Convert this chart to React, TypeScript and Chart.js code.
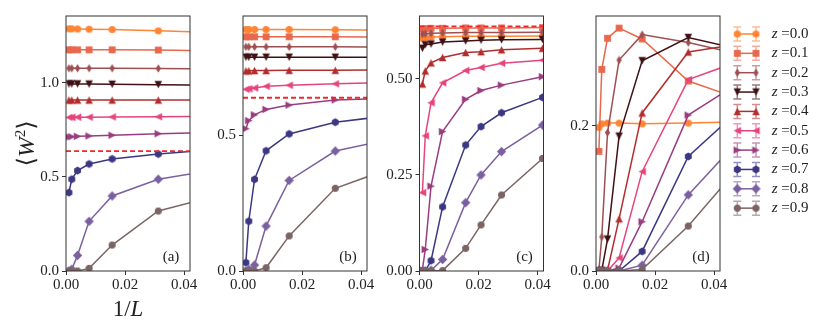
import React, { useEffect, useRef } from 'react';
import { Chart, registerables } from 'chart.js';
Chart.register(...registerables);

// ---------- data ----------
const X_MAIN = [1 / 1024, 1 / 512, 1 / 256, 1 / 128, 1 / 64, 1 / 32, 1 / 16];
const X_C = [1 / 1024, 1 / 512, 1 / 256, 1 / 128, 1 / 64, 1 / 48, 1 / 36, 1 / 24];
const Z_LABELS = ['0.0', '0.1', '0.2', '0.3', '0.4', '0.5', '0.6', '0.7', '0.8', '0.9'];
const X_TICKS = [0, 0.02, 0.04];
const A_TICKS = [0, 0.5, 1.0];
const B_TICKS = [0, 0.5];
const C_TICKS = [0, 0.25, 0.5];
const D_TICKS = [0, 0.2];
const DASH_LEVEL = 0.637;

const PANEL_A = [
  [1.288, 1.288, 1.287, 1.286, 1.284, 1.277, 1.265],
  [1.176, 1.176, 1.176, 1.176, 1.176, 1.175, 1.166],
  [1.078, 1.078, 1.078, 1.078, 1.078, 1.077, 1.074],
  [0.995, 0.995, 0.995, 0.994, 0.993, 0.991, 0.985],
  [0.909, 0.909, 0.909, 0.909, 0.909, 0.909, 0.909],
  [0.817, 0.817, 0.818, 0.818, 0.819, 0.820, 0.823],
  [0.713, 0.714, 0.716, 0.718, 0.722, 0.730, 0.742],
  [0.417, 0.488, 0.534, 0.569, 0.596, 0.622, 0.660],
  [0.000, 0.009, 0.083, 0.264, 0.399, 0.488, 0.569],
  [0.000, 0.000, 0.000, 0.014, 0.138, 0.319, 0.447],
];
const PANEL_B = [
  [0.888, 0.888, 0.888, 0.888, 0.888, 0.887, 0.884],
  [0.861, 0.861, 0.861, 0.861, 0.861, 0.861, 0.860],
  [0.824, 0.824, 0.824, 0.824, 0.824, 0.824, 0.823],
  [0.786, 0.786, 0.786, 0.786, 0.786, 0.786, 0.786],
  [0.736, 0.736, 0.737, 0.737, 0.738, 0.738, 0.741],
  [0.668, 0.670, 0.673, 0.679, 0.683, 0.688, 0.697],
  [0.523, 0.553, 0.574, 0.594, 0.610, 0.629, 0.638],
  [0.031, 0.183, 0.337, 0.442, 0.504, 0.547, 0.588],
  [0.000, 0.006, 0.022, 0.165, 0.333, 0.441, 0.514],
  [0.000, 0.000, 0.000, 0.012, 0.129, 0.304, 0.426],
];
const PANEL_C = [
  [0.606, 0.608, 0.609, 0.610, 0.611, 0.611, 0.611, 0.612],
  [0.630, 0.631, 0.632, 0.632, 0.633, 0.633, 0.633, 0.634],
  [0.617, 0.618, 0.619, 0.620, 0.621, 0.621, 0.621, 0.622],
  [0.580, 0.589, 0.591, 0.596, 0.599, 0.601, 0.602, 0.603],
  [0.487, 0.521, 0.542, 0.556, 0.569, 0.571, 0.576, 0.580],
  [0.204, 0.352, 0.438, 0.490, 0.522, 0.530, 0.541, 0.549],
  [0.003, 0.056, 0.221, 0.363, 0.447, 0.470, 0.484, 0.506],
  [0.000, 0.000, 0.027, 0.167, 0.328, 0.376, 0.412, 0.452],
  [0.000, 0.000, 0.002, 0.030, 0.178, 0.250, 0.311, 0.380],
  [0.000, 0.000, 0.000, 0.001, 0.059, 0.120, 0.198, 0.293],
];
const PANEL_D = [
  [0.198, 0.203, 0.204, 0.204, 0.203, 0.204, 0.207],
  [0.165, 0.278, 0.321, 0.335, 0.320, 0.262, 0.218],
  [0.001, 0.047, 0.191, 0.291, 0.326, 0.315, 0.286],
  [0.000, 0.001, 0.044, 0.186, 0.290, 0.322, 0.293],
  [0.000, 0.000, 0.001, 0.072, 0.218, 0.302, 0.322],
  [0.000, 0.000, 0.000, 0.018, 0.137, 0.264, 0.310],
  [0.000, 0.000, 0.000, 0.004, 0.068, 0.215, 0.296],
  [0.000, 0.000, 0.000, 0.000, 0.027, 0.158, 0.274],
  [0.000, 0.000, 0.000, 0.000, 0.008, 0.105, 0.242],
  [0.000, 0.000, 0.000, 0.000, 0.002, 0.062, 0.210],
];

// ---------- styles ----------
const COLORS = ['#ff8534', '#e9674d', '#9e4f52', '#3f1114', '#b32d2e', '#e6447c', '#993d80', '#3b3783', '#7b60a0', '#7c6464'];
const SHAPES = ['o', 's', 'd', 'v', '^', '<', '>', 'h', 'D', '8'];
const SERIF = "'Liberation Serif', 'DejaVu Serif', serif";
const AXIS_COLOR = '#333';
const TEXT_COLOR = '#222';
const DASH_COLOR = '#f02828';
const W = 830;
const H = 332;
const TOP = 16;
const BOTTOM = 271;
const YW = 40;
const XH = 30;

function poly(ctx: CanvasRenderingContext2D, pts: number[][]) {
  ctx.moveTo(pts[0][0], pts[0][1]);
  for (let i = 1; i < pts.length; i++) ctx.lineTo(pts[i][0], pts[i][1]);
  ctx.closePath();
}
function regular(n: number, r: number, start: number) {
  const pts: number[][] = [];
  for (let k = 0; k < n; k++) {
    const a = start + (k * 2 * Math.PI) / n;
    pts.push([r * Math.cos(a), r * Math.sin(a)]);
  }
  return pts;
}
function markerPath(ctx: CanvasRenderingContext2D, shape: string, r: number) {
  ctx.beginPath();
  switch (shape) {
    case 'o': ctx.arc(0, 0, r, 0, Math.PI * 2); break;
    case 's': ctx.rect(-r * 0.95, -r * 0.95, r * 1.9, r * 1.9); break;
    case 'd': poly(ctx, [[0, -r * 1.2], [r * 0.72, 0], [0, r * 1.2], [-r * 0.72, 0]]); break;
    case 'v': poly(ctx, [[0, r * 1.05], [-r * 1.05, -r * 1.05], [r * 1.05, -r * 1.05]]); break;
    case '^': poly(ctx, [[0, -r * 1.05], [-r * 1.05, r * 1.05], [r * 1.05, r * 1.05]]); break;
    case '<': poly(ctx, [[-r * 1.05, 0], [r * 1.05, -r * 1.05], [r * 1.05, r * 1.05]]); break;
    case '>': poly(ctx, [[r * 1.05, 0], [-r * 1.05, -r * 1.05], [-r * 1.05, r * 1.05]]); break;
    case 'h': poly(ctx, regular(6, r * 1.1, -Math.PI / 2)); break;
    case 'D': poly(ctx, [[0, -r * 1.3], [r * 1.3, 0], [0, r * 1.3], [-r * 1.3, 0]]); break;
    default: poly(ctx, regular(8, r * 1.05, Math.PI / 8)); break;
  }
}
function makeMarker(shape: string, color: string, r: number): HTMLCanvasElement {
  const s = Math.ceil(r * 2.8) + 2;
  const c = document.createElement('canvas');
  c.width = s;
  c.height = s;
  const ctx = c.getContext('2d')!;
  ctx.translate(s / 2, s / 2);
  ctx.fillStyle = color;
  markerPath(ctx, shape, r);
  ctx.fill();
  return c;
}

type PanelDef = {
  left: number;
  ymax: number;
  yTicks: number[];
  yDec: number;
  xs: number[];
  series: number[][];
  dash: boolean;
  label: string;
  axisTitles?: boolean;
  legend?: boolean;
};

const PANELS: PanelDef[] = [
  { left: 66, ymax: 1.356, yTicks: A_TICKS, yDec: 1, xs: X_MAIN, series: PANEL_A, dash: true, label: '(a)', axisTitles: true },
  { left: 243, ymax: 0.9375, yTicks: B_TICKS, yDec: 1, xs: X_MAIN, series: PANEL_B, dash: true, label: '(b)' },
  { left: 419.5, ymax: 0.664, yTicks: C_TICKS, yDec: 2, xs: X_C, series: PANEL_C, dash: true, label: '(c)' },
  { left: 596, ymax: 0.3517, yTicks: D_TICKS, yDec: 1, xs: X_MAIN, series: PANEL_D, dash: false, label: '(d)', legend: true },
];
const PANEL_W = 124;
const XMAX = 0.042;

function drawPieces(ctx: CanvasRenderingContext2D, pieces: { t: string; font: string; dy?: number }[], cx: number, y: number, align: 'center' | 'left') {
  let total = 0;
  const widths = pieces.map((p) => { ctx.font = p.font; const w = ctx.measureText(p.t).width; total += w; return w; });
  let x = align === 'center' ? cx - total / 2 : cx;
  pieces.forEach((p, i) => {
    ctx.font = p.font;
    ctx.fillText(p.t, x, y + (p.dy || 0));
    x += widths[i];
  });
}

function buildConfig(p: PanelDef, markers: HTMLCanvasElement[]): any {
  const datasets: any[] = p.series.map((ys, i) => ({
    label: 'z =' + Z_LABELS[i],
    data: p.xs.map((x, j) => ({ x, y: ys[j] })),
    borderColor: COLORS[i],
    backgroundColor: COLORS[i],
    borderWidth: 1.5,
    pointStyle: markers[i],
    pointRadius: 4,
    tension: 0,
    order: 10 - i,
  }));
  if (p.dash) {
    datasets.push({
      label: 'dash',
      data: [{ x: 0, y: DASH_LEVEL }, { x: XMAX, y: DASH_LEVEL }],
      borderColor: DASH_COLOR,
      backgroundColor: DASH_COLOR,
      borderWidth: 1.8,
      borderDash: [5, 3],
      pointRadius: 0,
      order: -1,
    });
  }
  const right = p.left + PANEL_W;
  const textPlugin = {
    id: 'texts',
    afterDatasetsDraw(chart: any) {
      const { ctx, chartArea: a } = chart;
      ctx.save();
      ctx.strokeStyle = AXIS_COLOR;
      ctx.lineWidth = 1;
      ctx.strokeRect(a.left, a.top, a.right - a.left, a.bottom - a.top);
      ctx.restore();
    },
    afterDraw(chart: any) {
      const ctx: CanvasRenderingContext2D = chart.ctx;
      ctx.save();
      ctx.fillStyle = TEXT_COLOR;
      ctx.textBaseline = 'middle';
      ctx.textAlign = 'left';
      drawPieces(ctx, [{ t: p.label, font: `15px ${SERIF}` }], p.left + 105, 257, 'center');
      if (p.axisTitles) {
        ctx.textBaseline = 'alphabetic';
        drawPieces(ctx, [
          { t: '1/', font: `23px ${SERIF}` },
          { t: 'L', font: `italic 23px ${SERIF}` },
        ], p.left + PANEL_W / 2, 316, 'center');
        ctx.save();
        ctx.translate(34, (TOP + BOTTOM) / 2);
        ctx.rotate(-Math.PI / 2);
        drawPieces(ctx, [
          { t: '\u27E8', font: `24px 'DejaVu Serif', serif` },
          { t: 'W', font: `italic 24px ${SERIF}` },
          { t: '2', font: `15px ${SERIF}`, dy: -9 },
          { t: '\u27E9', font: `24px 'DejaVu Serif', serif` },
        ], 0, 0, 'center');
        ctx.restore();
      }
      if (p.legend) {
        const x1 = 737.3;
        const x2 = 756;
        for (let i = 0; i < COLORS.length; i++) {
          const y = 34 + i * 19.35;
          ctx.save();
          ctx.strokeStyle = COLORS[i];
          ctx.lineWidth = 1.5;
          ctx.beginPath();
          ctx.moveTo(x1, y);
          ctx.lineTo(x2, y);
          ctx.stroke();
          ctx.globalAlpha = 0.55;
          [x1, x2].forEach((x) => {
            ctx.beginPath();
            ctx.moveTo(x, y - 7);
            ctx.lineTo(x, y + 7);
            ctx.moveTo(x - 4, y - 7);
            ctx.lineTo(x + 4, y - 7);
            ctx.moveTo(x - 4, y + 7);
            ctx.lineTo(x + 4, y + 7);
            ctx.stroke();
          });
          ctx.globalAlpha = 1;
          const m = markers[i];
          [x1, x2].forEach((x) => ctx.drawImage(m, x - m.width / 2, y - m.height / 2));
          ctx.restore();
          ctx.fillStyle = TEXT_COLOR;
          ctx.textBaseline = 'middle';
          drawPieces(ctx, [
            { t: 'z', font: `italic 15px ${SERIF}` },
            { t: ' =' + Z_LABELS[i], font: `15px ${SERIF}` },
          ], 771.7, y, 'left');
        }
      }
      ctx.restore();
    },
  };
  const tickFont = { family: SERIF, size: 15 };
  return {
    type: 'line',
    data: { datasets },
    options: {
      responsive: false,
      animation: false,
      events: [],
      layout: { padding: { left: p.left - YW, right: W - right, top: TOP, bottom: H - BOTTOM - XH } },
      plugins: { legend: { display: false }, tooltip: { enabled: false } },
      scales: {
        x: {
          type: 'linear',
          min: 0,
          max: XMAX,
          afterBuildTicks: (s: any) => { s.ticks = X_TICKS.map((v) => ({ value: v })); },
          afterFit: (s: any) => { s.height = XH; },
          ticks: { callback: (v: number) => v.toFixed(2), font: tickFont, color: TEXT_COLOR, padding: 1, maxRotation: 0, autoSkip: false },
          grid: { drawOnChartArea: false, drawTicks: true, tickLength: 4, color: AXIS_COLOR, tickWidth: 1 },
          border: { display: false },
        },
        y: {
          type: 'linear',
          min: 0,
          max: p.ymax,
          afterBuildTicks: (s: any) => { s.ticks = p.yTicks.map((v) => ({ value: v })); },
          afterFit: (s: any) => { s.width = YW; },
          ticks: { callback: (v: number) => v.toFixed(p.yDec), font: tickFont, color: TEXT_COLOR, padding: 3, autoSkip: false },
          grid: { drawOnChartArea: false, drawTicks: true, tickLength: 4, color: AXIS_COLOR, tickWidth: 1 },
          border: { display: false },
        },
      },
    },
    plugins: [textPlugin],
  };
}

export default function App() {
  const r0 = useRef<HTMLCanvasElement>(null);
  const r1 = useRef<HTMLCanvasElement>(null);
  const r2 = useRef<HTMLCanvasElement>(null);
  const r3 = useRef<HTMLCanvasElement>(null);
  const refs = [r0, r1, r2, r3];
  useEffect(() => {
    const markers = COLORS.map((c, i) => makeMarker(SHAPES[i], c, 3.6));
    const charts = PANELS.map((p, k) => new Chart(refs[k].current as HTMLCanvasElement, buildConfig(p, markers)));
    return () => charts.forEach((c) => c.destroy());
  }, []);
  return (
    <div style={{ position: 'fixed', left: 0, top: 0, width: W, height: H, background: '#fff' }}>
      {refs.map((r, k) => (
        <canvas key={k} ref={r} width={W} height={H} style={{ position: 'absolute', left: 0, top: 0 }} />
      ))}
    </div>
  );
}
